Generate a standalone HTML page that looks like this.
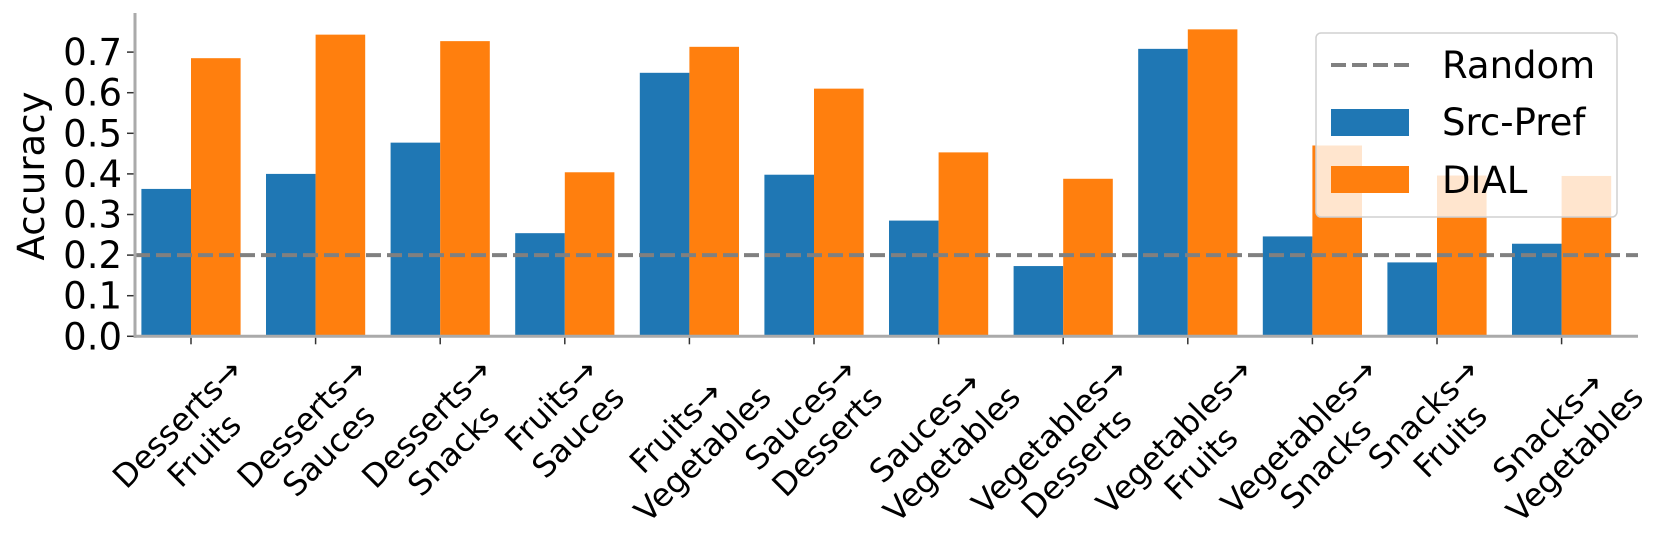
<!DOCTYPE html>
<html><head><meta charset="utf-8">
<style>
html,body{margin:0;padding:0;background:#fff;}
svg{display:block;font-family:"DejaVu Sans","Liberation Sans",sans-serif;}
</style></head>
<body>
<svg id="chart" width="1660" height="551" viewBox="0 0 1660 551" xmlns="http://www.w3.org/2000/svg">
<g id="bars"></g>
<g id="axes"></g>
<g id="xlabels"></g>
<text x="0" y="0" transform="translate(44,176) rotate(-90)" text-anchor="middle" font-size="37" fill="#000">Accuracy</text>
<g id="legend">
  <rect x="1316" y="33" width="301" height="184" rx="5" fill="#fff" fill-opacity="0.8" stroke="#d0d0d0" stroke-width="1.5"/>
  <line x1="1331" y1="65" x2="1409" y2="65" stroke="#808080" stroke-width="4" stroke-dasharray="15,6"/>
  <text x="1442" y="78" font-size="37">Random</text>
  <rect x="1331" y="109" width="78" height="27" fill="#1f77b4"/>
  <text x="1442" y="135" font-size="37">Src-Pref</text>
  <rect x="1331" y="166" width="78" height="27" fill="#ff7f0e"/>
  <text x="1442" y="193" font-size="37">DIAL</text>
</g>
</svg>
<script>
const categories = [["Desserts→","Fruits"],["Desserts→","Sauces"],["Desserts→","Snacks"],["Fruits→","Sauces"],["Fruits→","Vegetables"],["Sauces→","Desserts"],["Sauces→","Vegetables"],["Vegetables→","Desserts"],["Vegetables→","Fruits"],["Vegetables→","Snacks"],["Snacks→","Fruits"],["Snacks→","Vegetables"]];
const srcPref = [0.363,0.400,0.477,0.254,0.649,0.398,0.285,0.173,0.708,0.246,0.182,0.228];
const dial = [0.685,0.743,0.727,0.404,0.713,0.610,0.453,0.388,0.756,0.470,0.396,0.395];
const randomLevel = 0.2;
const yTicks = [0,0.1,0.2,0.3,0.4,0.5,0.6,0.7];
const yTickLabels = ["0.0","0.1","0.2","0.3","0.4","0.5","0.6","0.7"];

const NS = "http://www.w3.org/2000/svg";
const X0 = 135, X1 = 1638, Y0 = 336.3, YTOP = 13;
const y = v => Y0 - 406 * v;
const xc = i => 191 + 124.6 * i;
const BW = 49.6;
function mk(tag, attrs, parent){const e=document.createElementNS(NS,tag);for(const k in attrs)e.setAttribute(k,attrs[k]);parent.appendChild(e);return e;}

const bars = document.getElementById('bars');
srcPref.forEach((v,i)=>{
  const r = mk('rect',{x:xc(i)-BW,y:y(v),width:BW,height:Y0-y(v),fill:'#1f77b4'},bars);
  
  
});
dial.forEach((v,i)=>{
  const r = mk('rect',{x:xc(i),y:y(v),width:BW,height:Y0-y(v),fill:'#ff7f0e'},bars);
  
  
});

const axes = document.getElementById('axes');
const rl = mk('line',{x1:X0,y1:y(randomLevel),x2:X1,y2:y(randomLevel),stroke:'#808080','stroke-width':4,'stroke-dasharray':'15,6'},axes);


const ya = mk('line',{x1:X0,y1:YTOP,x2:X0,y2:Y0+1.5,stroke:'#aaaaaa','stroke-width':3},axes);


const xa = mk('line',{x1:X0-1.5,y1:Y0,x2:X1,y2:Y0,stroke:'#aaaaaa','stroke-width':3},axes);


yTicks.forEach((t,i)=>{
  const tk = mk('line',{x1:X0-8,y1:y(t),x2:X0-1.5,y2:y(t),stroke:'#333','stroke-width':1.5},axes);
  
  
  const tl = mk('text',{x:X0-13,y:y(t)+13,'text-anchor':'end','font-size':37,fill:'#000'},axes);
  tl.textContent = yTickLabels[i];
  
  
});
categories.forEach((c,i)=>{
  const tk = mk('line',{x1:xc(i),y1:Y0+1.5,x2:xc(i),y2:Y0+8,stroke:'#333','stroke-width':1.5},axes);
  
  
});

const xl = document.getElementById('xlabels');
const FS = 32, LH = 38;
categories.forEach((lines,i)=>{
  const g = mk('g',{},xl);
  
  
  const ts = lines.map((s,k)=>{const t=mk('text',{x:0,y:FS*0.93+k*LH,'font-size':FS,'text-anchor':'middle',fill:'#000'},g);t.textContent=s;return t;});
  const W = Math.max(...ts.map(t=>t.getComputedTextLength()));
  const H = lines.length*LH;
  ts.forEach(t=>t.setAttribute('x',-W/2));
  const ox = xc(i) - (H-W)/(2*Math.SQRT2);
  g.setAttribute('transform',`translate(${ox},${Y0+15}) rotate(-45)`);
});
</script>
</body></html>
